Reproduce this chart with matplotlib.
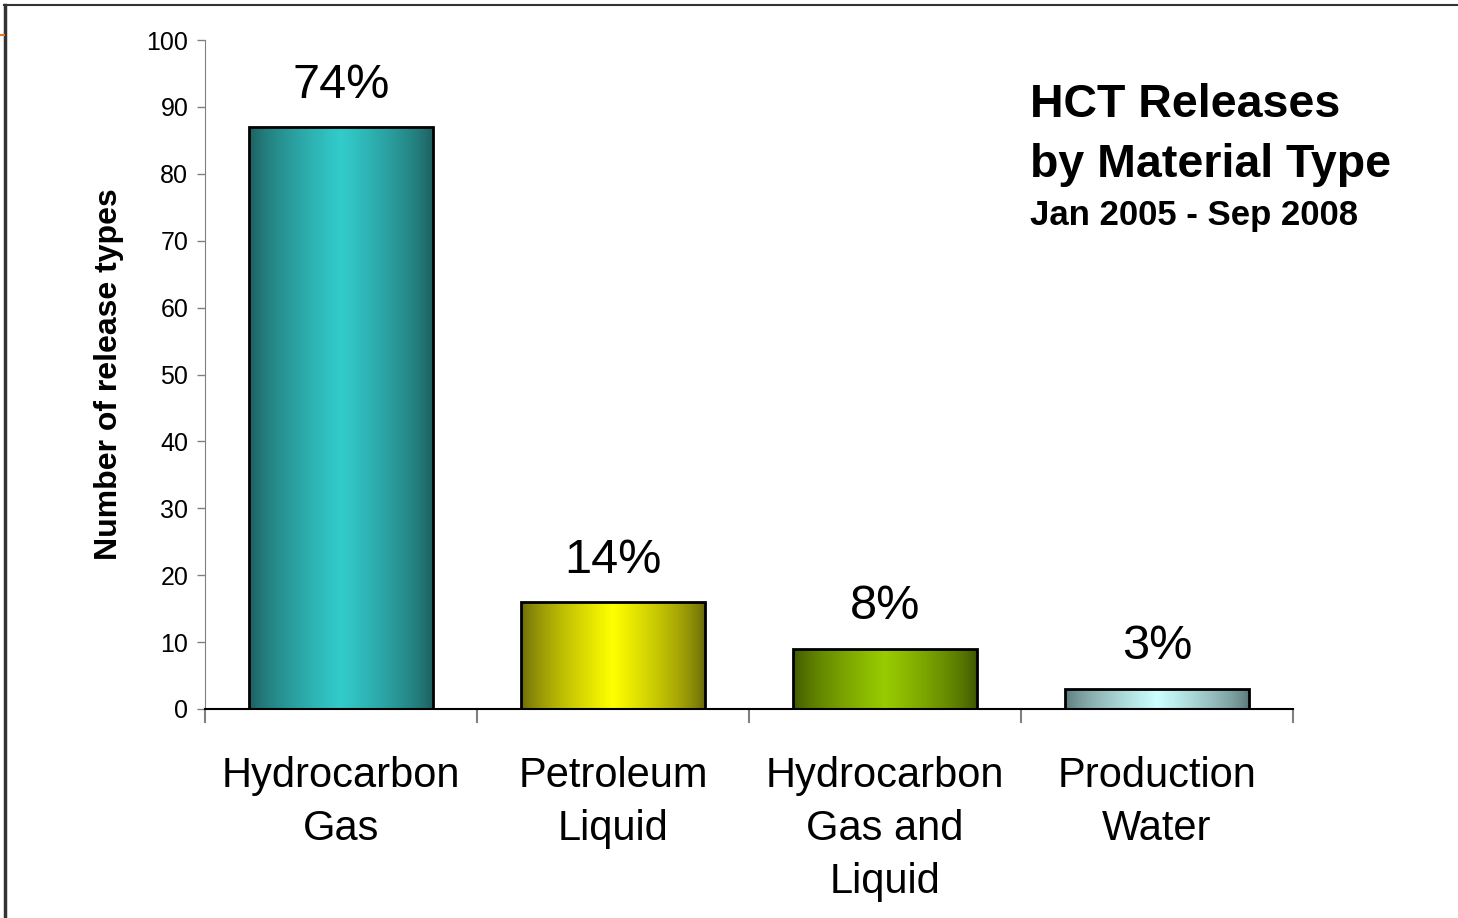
import matplotlib
matplotlib.use("Agg")
import matplotlib.pyplot as plt
import numpy as np
from matplotlib.colors import to_rgb
from matplotlib.lines import Line2D

plt.rcParams['font.family'] = ['Liberation Sans', 'DejaVu Sans']

categories = ["Hydrocarbon\nGas", "Petroleum\nLiquid", "Hydrocarbon\nGas and\nLiquid", "Production\nWater"]
values = [87, 16, 9, 3]
pct_labels = ["74%", "14%", "8%", "3%"]
edge_colors = ["#1d5c5c", "#66660a", "#3d5500", "#5a7676"]
center_colors = ["#33cccc", "#ffff00", "#99cc00", "#ccffff"]
yticks = list(range(0, 101, 10))

fig = plt.figure(figsize=(14.58, 9.18), dpi=100)
ax = fig.add_axes([205/1458, 1-709/918, (1293-205)/1458, (709-40)/918])

x = np.arange(len(categories))
width = 0.676
bars = ax.bar(x, values, width=width, facecolor="none", edgecolor="black", linewidth=2, zorder=3)

u = np.linspace(0, 1, 256)
prof = (1 - np.abs(2*u - 1)) ** 0.7
for b, ec, cc in zip(bars, edge_colors, center_colors):
    e = np.array(to_rgb(ec)); c = np.array(to_rgb(cc))
    img = e[None, :] * (1 - prof[:, None]) + c[None, :] * prof[:, None]
    img = img[None, :, :]
    x0 = b.get_x(); w = b.get_width(); h = b.get_height()
    im = ax.imshow(img, extent=[x0, x0 + w, 0, h], aspect='auto', zorder=2, interpolation='bilinear')
    im.set_clip_path(b)

for xi, v, lab in zip(x, values, pct_labels):
    ax.annotate(lab, (xi, v), xytext=(0, 14), textcoords='offset points',
                ha='center', va='bottom', fontsize=35)

ax.set_xlim(-0.5, 3.5)
ax.set_ylim(0, 100)
ax.set_yticks(yticks)
ax.tick_params(axis='y', labelsize=18, length=6, width=1, color='#808080', pad=6, direction='out')
ax.set_xticks(np.arange(-0.5, 4.0, 1.0))
ax.set_xticklabels([])
ax.tick_params(axis='x', length=10, width=1.5, color='#808080', direction='out')
for s in ['top', 'right']:
    ax.spines[s].set_visible(False)
ax.spines['left'].set_color('#808080')
ax.spines['bottom'].set_color('black')
ax.spines['bottom'].set_linewidth(1.5)

for xi, cat in zip(x, categories):
    ax.text(xi, -0.07, cat, transform=ax.get_xaxis_transform(), ha='center', va='top',
            fontsize=30, linespacing=1.43)

ax.set_ylabel("Number of release types", fontsize=23, fontweight='bold', labelpad=16)

fig.text(1030/1458, 1-117/918, "HCT Releases", fontsize=33.5, fontweight='bold', ha='left', va='baseline')
fig.text(1030/1458, 1-177/918, "by Material Type", fontsize=33.5, fontweight='bold', ha='left', va='baseline')
fig.text(1030/1458, 1-225/918, "Jan 2005 - Sep 2008", fontsize=25, fontweight='bold', ha='left', va='baseline')

# slide frame
fig.add_artist(Line2D([4/1458, 1.0], [1-5/918, 1-5/918], transform=fig.transFigure, color='#333333', lw=1.5))
fig.add_artist(Line2D([5/1458, 5/1458], [0, 1-5/918], transform=fig.transFigure, color='#333333', lw=2.5))
fig.add_artist(Line2D([0, 4/1458], [1-35/918, 1-35/918], transform=fig.transFigure, color='#e07a20', lw=1.5))

fig.savefig("out.png", dpi=100)
